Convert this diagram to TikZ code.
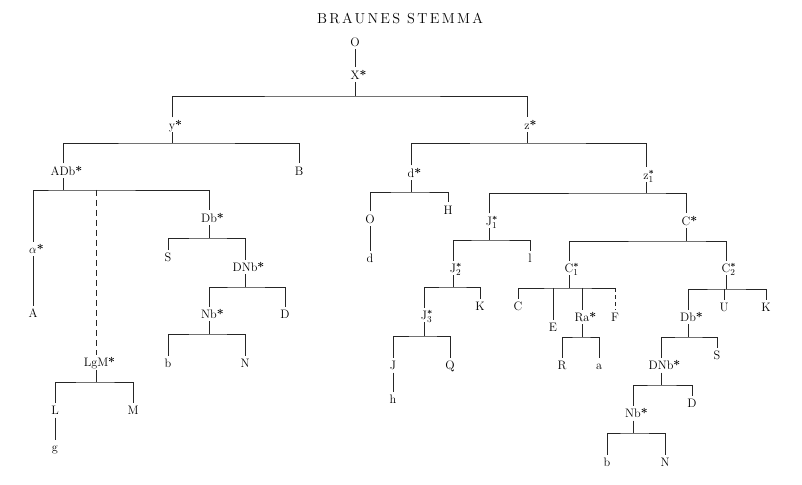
\documentclass[tikz,border=0pt]{standalone}
\usepackage{amsmath}
\usepackage{fontspec}
\newfontfamily\titlefont{lmroman12-regular}[Extension=.otf,LetterSpace=16]
\begin{document}
\begin{tikzpicture}[x=1bp,y=-1bp,
  lab/.style={inner sep=3.2bp,text height=8.2bp,text depth=0bp,font=\fontsize{12.3}{14}\selectfont,text=black},
  ln/.style={draw=black!85,line width=0.95bp},
  dsh/.style={draw=black!85,line width=0.95bp,dash pattern=on 6bp off 4bp},
  dshs/.style={draw=black!85,line width=0.95bp,dash pattern=on 4bp off 3bp}]
\newcommand\st{\rlap{\textbf{*}}}
\newcommand\sst[1]{\rlap{$^{\boldsymbol{*}}_{#1}$}}
\useasboundingbox (0,0) rectangle (802,485);
\node[text=black] (title) at (400,18) {\titlefont\fontsize{14.5}{18}\selectfont BRAUNES STEMMA};
% nodes
\node[lab] (O)   at (355,42) {O};
\node[lab] (X)   at (355,75) {X\st};
\node[lab] (y)   at (172,125) {y\st};
\node[lab] (z)   at (527,125) {z\st};
\node[lab] (ADb) at (63,171) {ADb\st};
\node[lab] (B)   at (299,171) {B};
\node[lab] (alpha) at (33,249) {$\alpha$\st};
\node[lab] (A)   at (33,313) {A};
\node[lab] (LgM) at (96,362) {LgM\st};
\node[lab] (L)   at (55,410) {L};
\node[lab] (M)   at (133,410) {M};
\node[lab] (g)   at (55,447) {g};
\node[lab] (Db)  at (209,218) {Db\st};
\node[lab] (S)   at (168,257) {S};
\node[lab] (DNb) at (245,267) {DNb\st};
\node[lab] (Nb)  at (209,314) {Nb\st};
\node[lab] (D)   at (285,314) {D};
\node[lab] (b)   at (168,363) {b};
\node[lab] (N)   at (245,363) {N};
\node[lab] (d)   at (411,173) {d\st};
\node[lab] (O2)  at (370,219) {O};
\node[lab] (H)   at (448,210) {H};
\node[lab] (dd)  at (370,258) {d};
\node[lab] (z1)  at (646,175) {z\sst{1}};
\node[lab] (J1)  at (489,221) {J\sst{1}};
\node[lab] (l)   at (530,258) {l};
\node[lab] (J2)  at (453,268) {J\sst{2}};
\node[lab] (K)   at (480,306) {K};
\node[lab] (J3)  at (424,315) {J\sst{3}};
\node[lab] (J)   at (393,365) {J};
\node[lab] (Q)   at (450,365) {Q};
\node[lab] (h)   at (393,399) {h};
\node[lab] (C)   at (686,221) {C\st};
\node[lab] (C1)  at (569,268) {C\sst{1}};
\node[lab] (Cc)  at (518,306) {C};
\node[lab] (E)   at (553,327) {E};
\node[lab] (Ra)  at (582,317) {Ra\st};
\node[lab] (F)   at (615,317) {F};
\node[lab] (R)   at (562,365) {R};
\node[lab] (a)   at (599,365) {a};
\node[lab] (C2)  at (726,268) {C\sst{2}};
\node[lab] (Db2) at (688,317) {Db\st};
\node[lab] (U)   at (724,307) {U};
\node[lab] (K2)  at (766,307) {K};
\node[lab] (S2)  at (717,355) {S};
\node[lab] (DNb2) at (661,365) {DNb\st};
\node[lab] (D2)  at (692,403) {D};
\node[lab] (Nb2) at (633,413) {Nb\st};
\node[lab] (b2)  at (607,462) {b};
\node[lab] (N2)  at (665,462) {N};
% bar coordinates
\coordinate (bX) at (355,96);
\coordinate (by) at (172,143);
\coordinate (bz) at (527,143);
\coordinate (bADb) at (63,190);
\coordinate (bDb) at (209,238);
\coordinate (bDNb) at (245,287);
\coordinate (bNb) at (209,334);
\coordinate (bLgM) at (96,382);
\coordinate (bd) at (411,192);
\coordinate (bz1) at (646,193);
\coordinate (bJ1) at (489,240);
\coordinate (bJ2) at (453,287);
\coordinate (bJ3) at (424,336);
\coordinate (bC) at (686,241);
\coordinate (bC1) at (569,288);
\coordinate (bRa) at (582,337);
\coordinate (bC2) at (726,289);
\coordinate (bDb2) at (688,337);
\coordinate (bDNb2) at (661,385);
\coordinate (bNb2) at (633,433);
% connectors
\draw[ln] (O) -- (X);
\draw[ln] (X.south) -- (bX);
\draw[ln] (y.north) |- (bX) -| (z.north);
\draw[ln] (y.south) -- (by);
\draw[ln] (ADb.north) |- (by) -| (B.north);
\draw[ln] (z.south) -- (bz);
\draw[ln] (d.north) |- (bz) -| (z1.north);
\draw[ln] (ADb.south) -- (bADb);
\draw[ln] (alpha.north) |- (bADb) -| (Db.north);
\draw[dsh] (bADb -| LgM.north) -- (LgM.north);
\draw[ln] (alpha) -- (A);
\draw[ln] (Db.south) -- (bDb);
\draw[ln] (S.north) |- (bDb) -| (DNb.north);
\draw[ln] (DNb.south) -- (bDNb);
\draw[ln] (Nb.north) |- (bDNb) -| (D.north);
\draw[ln] (Nb.south) -- (bNb);
\draw[ln] (b.north) |- (bNb) -| (N.north);
\draw[ln] (LgM.south) -- (bLgM);
\draw[ln] (L.north) |- (bLgM) -| (M.north);
\draw[ln] (L) -- (g);
\draw[ln] (d.south) -- (bd);
\draw[ln] (O2.north) |- (bd) -| (H.north);
\draw[ln] (O2) -- (dd);
\draw[ln] (z1.south) -- (bz1);
\draw[ln] (J1.north) |- (bz1) -| (C.north);
\draw[ln] (J1.south) -- (bJ1);
\draw[ln] (J2.north) |- (bJ1) -| (l.north);
\draw[ln] (J2.south) -- (bJ2);
\draw[ln] (J3.north) |- (bJ2) -| (K.north);
\draw[ln] (J3.south) -- (bJ3);
\draw[ln] (J.north) |- (bJ3) -| (Q.north);
\draw[ln] (J) -- (h);
\draw[ln] (C.south) -- (bC);
\draw[ln] (C1.north) |- (bC) -| (C2.north);
\draw[ln] (C1.south) -- (bC1);
\draw[ln] (Cc.north) |- (bC1) -- (bC1 -| F.north);
\draw[ln] (bC1 -| E.north) -- (E.north);
\draw[ln] (bC1 -| Ra.north) -- (Ra.north);
\draw[dshs] (bC1 -| F.north) -- (F.north);
\draw[ln] (Ra.south) -- (bRa);
\draw[ln] (R.north) |- (bRa) -| (a.north);
\draw[ln] (C2.south) -- (bC2);
\draw[ln] (Db2.north) |- (bC2) -| (K2.north);
\draw[ln] (bC2 -| U.north) -- (U.north);
\draw[ln] (Db2.south) -- (bDb2);
\draw[ln] (DNb2.north) |- (bDb2) -| (S2.north);
\draw[ln] (DNb2.south) -- (bDNb2);
\draw[ln] (Nb2.north) |- (bDNb2) -| (D2.north);
\draw[ln] (Nb2.south) -- (bNb2);
\draw[ln] (b2.north) |- (bNb2) -| (N2.north);
\end{tikzpicture}
\end{document}
